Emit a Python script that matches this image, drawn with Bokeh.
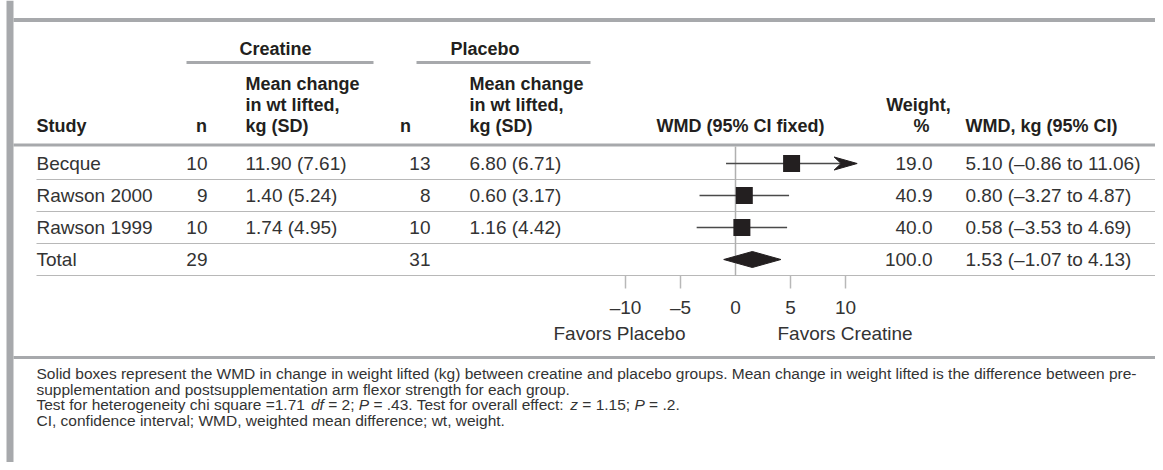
from bokeh.plotting import figure
from bokeh.models import Range1d
from bokeh.core.properties import value
from bokeh.embed import file_html
from bokeh.resources import INLINE

# ---------------- data ----------------
studies = ["Becque", "Rawson 2000", "Rawson 1999"]
creatine_n = [10, 9, 10]
creatine_mean = [11.90, 1.40, 1.74]
creatine_sd = [7.61, 5.24, 4.95]
placebo_n = [13, 8, 10]
placebo_mean = [6.80, 0.60, 1.16]
placebo_sd = [6.71, 3.17, 4.42]
weight_pct = [19.0, 40.9, 40.0]
wmd = [5.10, 0.80, 0.58]
wmd_lo = [-0.86, -3.27, -3.53]
wmd_hi = [11.06, 4.87, 4.69]

total_label = "Total"
total_creatine_n = 29
total_placebo_n = 31
total_weight = 100.0
total_wmd = 1.53
total_lo = -1.07
total_hi = 4.13

axis_tick_labels = [-10, -5, 0, 5, 10]
axis_tick_marks = [-10, -5, 5, 10]
axis_limit = 10

footnote_lines = [
    "Solid boxes represent the WMD in change in weight lifted (kg) between creatine and placebo groups. Mean change in weight lifted is the difference between pre-",
    "supplementation and postsupplementation arm flexor strength for each group.",
    None,
    "CI, confidence interval; WMD, weighted mean difference; wt, weight.",
]
footnote_stats = [
    ("Test for heterogeneity chi square =1.71 ", "normal"), ("df", "italic"), (" = 2; ", "normal"),
    ("P", "italic"), (" = .43. Test for overall effect: ", "normal"), ("z", "italic"),
    (" = 1.15; ", "normal"), ("P", "italic"), (" = .2.", "normal"),
]

# ---------------- style / layout ----------------
FONT = "Liberation Sans"
TXT = "#333333"
HDR = "#231f20"
RULE = "#a7a9ac"
THIN = "#b8b8b8"
BODY = 19
HEAD = 18

W, H = 1155, 462
ZERO_PX, PPU = 735.0, 11.0

AW = {' ': 278, '!': 278, '(': 333, ')': 333, ',': 278, '-': 333, '.': 278, ':': 278, ';': 278,
      '=': 584, '%': 889, '–': 556}
for c in "0123456789":
    AW[c] = 556
AW.update(dict(zip("ABCDEFGHIJKLMNOPQRSTUVWXYZ",
                   [667, 667, 722, 722, 667, 611, 778, 722, 278, 500, 667, 556, 833, 722, 778, 667, 778,
                    722, 667, 611, 722, 667, 944, 667, 667, 611])))
AW.update(dict(zip("abcdefghijklmnopqrstuvwxyz",
                   [556, 556, 500, 556, 556, 278, 556, 556, 222, 222, 500, 222, 833, 556, 556, 556, 556,
                    333, 500, 278, 556, 500, 722, 500, 500, 500])))


def text_width(s, size):
    return sum(AW.get(c, 556) for c in s) * size / 1000.0


# footnote size chosen so the first line spans the same width as in the reference
FOOT = round(1098 / text_width(footnote_lines[0], 1), 1)


def dash(v):
    return f"{v:.2f}".replace("-", "–")


p = figure(width=W, height=H, x_range=Range1d(0, W), y_range=Range1d(H, 0),
           output_backend="svg", toolbar_location=None, min_border=0,
           x_axis_location=None, y_axis_location=None, outline_line_color=None,
           background_fill_color="white", border_fill_color="white")
p.grid.visible = False
p.extra_x_ranges = {"wmd": Range1d(-ZERO_PX / PPU, (W - ZERO_PX) / PPU)}


def txt(x, y, s, size=BODY, style="normal", align="left", color=TXT):
    ys = y if isinstance(y, list) else [y]
    xs = x if isinstance(x, list) else [x] * len(ys)
    ss = s if isinstance(s, list) else [s]
    n = min(len(ys), len(ss))
    p.text(x=xs[:n], y=ys[:n], text=ss[:n],
           text_font=value(FONT), text_font_size=f"{size}px", text_font_style=style,
           text_align=align, text_baseline="middle", text_color=color)


# frame decorations
p.quad(left=[6], right=[13], top=[0], bottom=[H], fill_color=RULE, line_color=None)
p.segment(x0=[13], x1=[W], y0=[19.5], y1=[19.5], line_color=RULE, line_width=4)
p.segment(x0=[13], x1=[W], y0=[144.5], y1=[144.5], line_color=RULE, line_width=3)
p.segment(x0=[13], x1=[W], y0=[357], y1=[357], line_color=RULE, line_width=3)

# header
txt(275, 48, "Creatine", HEAD, "bold", "center", HDR)
txt(450, 48, "Placebo", HEAD, "bold", "left", HDR)
p.segment(x0=[186, 416], x1=[373, 590], y0=[62, 62], y1=[62, 62], line_color=RULE, line_width=3)
for xh in (245, 469):
    txt(xh, 83, "Mean change", HEAD, "bold", "left", HDR)
    txt(xh, 104, "in wt lifted,", HEAD, "bold", "left", HDR)
    txt(xh, 125, "kg (SD)", HEAD, "bold", "left", HDR)
txt(36, 125, "Study", HEAD, "bold", "left", HDR)
txt(201, 125, "n", HEAD, "bold", "center", HDR)
txt(405, 125, "n", HEAD, "bold", "center", HDR)
txt(740, 125, "WMD (95% CI fixed)", HEAD, "bold", "center", HDR)
txt(918, 104, "Weight,", HEAD, "bold", "center", HDR)
txt(921, 125, "%", HEAD, "bold", "center", HDR)
txt(965, 125, "WMD, kg (95% CI)", HEAD, "bold", "left", HDR)

# rows
ROW0, DY = 163, 32
n_rows = len(studies) + 1
row_y = [ROW0 + DY * i for i in range(n_rows)]
rule_y = [y + 16 for y in row_y]
p.segment(x0=[36] * n_rows, x1=[W] * n_rows, y0=rule_y, y1=rule_y, line_color=THIN, line_width=1.2)

txt(36, row_y, studies + [total_label])
txt(207, row_y, [str(v) for v in creatine_n + [total_creatine_n]], align="right")
txt(245, row_y, [f"{m:.2f} ({s:.2f})" for m, s in zip(creatine_mean, creatine_sd)])
txt(430, row_y, [str(v) for v in placebo_n + [total_placebo_n]], align="right")
txt(469, row_y, [f"{m:.2f} ({s:.2f})" for m, s in zip(placebo_mean, placebo_sd)])
txt(932, row_y, [f"{w:.1f}" for w in weight_pct + [total_weight]], align="right")
txt(965, row_y, [f"{e:.2f} ({dash(lo)} to {dash(hi)})"
                 for e, lo, hi in zip(wmd + [total_wmd], wmd_lo + [total_lo], wmd_hi + [total_hi])])

# forest plot
p.segment(x0=[0], x1=[0], y0=[146], y1=[rule_y[-1]], line_color="#b0b0b0", line_width=1.5,
          x_range_name="wmd")
p.segment(x0=axis_tick_marks, x1=axis_tick_marks, y0=[rule_y[-1]] * len(axis_tick_marks),
          y1=[rule_y[-1] + 13] * len(axis_tick_marks), line_color="#b8b8b8", line_width=1.5,
          x_range_name="wmd")

study_y = row_y[:-1]
HEAD_LEN = 23 / PPU
seg_hi = [hi - HEAD_LEN * 0.5 if hi > axis_limit else hi for hi in wmd_hi]
p.segment(x0=wmd_lo, x1=seg_hi, y0=study_y, y1=study_y, line_color="#4a4a4a", line_width=1.4,
          x_range_name="wmd")
for hi, y in zip(wmd_hi, study_y):
    if hi > axis_limit:
        p.patch(x=[hi, hi - HEAD_LEN, hi - HEAD_LEN * 0.7, hi - HEAD_LEN],
                y=[y, y - 6.5, y, y + 6.5], fill_color=HDR, line_color=HDR, x_range_name="wmd")
p.rect(x=wmd, y=study_y, width=17, height=17, width_units="screen", height_units="screen",
       fill_color=HDR, line_color=None, x_range_name="wmd")
ty = row_y[-1]
p.patch(x=[total_lo, total_wmd, total_hi, total_wmd], y=[ty, ty - 8, ty, ty + 8],
        fill_color=HDR, line_color=HDR, x_range_name="wmd")

p.text(x=axis_tick_labels, y=[307] * len(axis_tick_labels),
       text=[str(t).replace("-", "–") for t in axis_tick_labels], x_range_name="wmd",
       text_font=value(FONT), text_font_size=f"{BODY}px", text_align="center",
       text_baseline="middle", text_color=TXT)
txt(685, 333, "Favors Placebo", BODY, "normal", "right")
txt(777, 333, "Favors Creatine", BODY, "normal", "left")

# footnotes
FY0, FDY = 373, 15.5
for i, line in enumerate(footnote_lines):
    if line is not None:
        txt(36, FY0 + FDY * i, line, FOOT)
xs = 36
for s, st in footnote_stats:
    lead = len(s) - len(s.lstrip())
    txt(xs + text_width(s[:lead], FOOT), FY0 + FDY * 2, s.strip(), FOOT, st)
    xs += text_width(s, FOOT)

open("out.html", "w").write(file_html(p, INLINE))
